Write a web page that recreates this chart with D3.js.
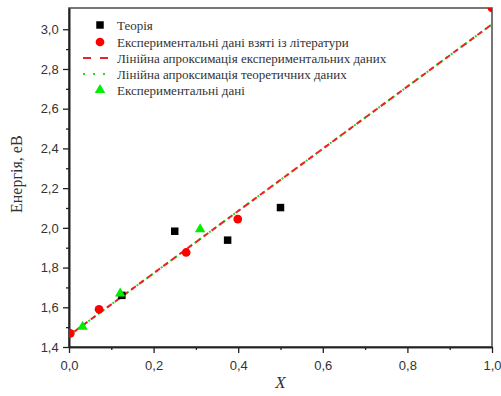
<!DOCTYPE html>
<html>
<head>
<meta charset="utf-8">
<script src="https://cdn.jsdelivr.net/npm/d3@7"></script>
<style>
  body { margin: 0; background: #fff; }
  svg { display: block; }
</style>
</head>
<body>
<div id="chart"></div>
<script>
// data
var theoryX = [0.125, 0.25, 0.375, 0.5];
var theoryY = [1.66, 1.983, 1.938, 2.102];

var litX = [0.003, 0.071, 0.277, 0.399, 1.0];
var litY = [1.469, 1.59, 1.876, 2.044, 3.107];

var expX = [0.032, 0.121, 0.31];
var expY = [1.497, 1.664, 1.988];

// linear fits (end points)
var fitExpX = [0, 1.0];
var fitExpY = [1.458, 3.025];
var fitTheoX = [0, 1.0];
var fitTheoY = [1.458, 3.025];

var xTicks = [0, 0.2, 0.4, 0.6, 0.8, 1.0];
var yTicks = [1.4, 1.6, 1.8, 2.0, 2.2, 2.4, 2.6, 2.8, 3.0];

var legendLabels = [
  'Теорія',
  'Експериментальні дані взяті із літератури',
  'Лінійна апроксимація експериментальних даних',
  'Лінійна апроксимація теоретичних даних',
  'Експериментальні дані'
];

var w = 501, h = 396;
var margin = {left: 69, right: 9, top: 8, bottom: 49};

var svg = d3.select('#chart').append('svg')
  .attr('width', w)
  .attr('height', h);

var x = d3.scaleLinear().domain([0, 1.0]).range([margin.left, w - margin.right]);
var y = d3.scaleLinear().domain([1.4, 3.107]).range([h - margin.bottom, margin.top]);

var fmt = function(d) { return d3.format('.1f')(d).replace('.', ','); };

svg.append('clipPath').attr('id', 'clip')
  .append('rect')
    .attr('x', x(0)).attr('y', y(3.107))
    .attr('width', x(1) - x(0)).attr('height', y(1.4) - y(3.107));

// frame
svg.append('rect')
  .attr('x', x(0)).attr('y', y(3.107))
  .attr('width', x(1) - x(0)).attr('height', y(1.4) - y(3.107))
  .attr('fill', 'none')
  .attr('stroke', '#555')
  .attr('stroke-width', 1.6);

// axes: major + minor ticks
var xMinor = d3.range(0.1, 1.0, 0.2);
var yMinor = d3.range(1.5, 3.1, 0.2);

var xAxis = svg.append('g')
  .attr('transform', 'translate(0,' + y(1.4) + ')')
  .call(d3.axisBottom(x).tickValues(xTicks).tickFormat(fmt).tickSize(6).tickSizeOuter(0));
svg.append('g')
  .attr('transform', 'translate(0,' + y(1.4) + ')')
  .call(d3.axisBottom(x).tickValues(xMinor).tickFormat('').tickSize(3).tickSizeOuter(0));

var yAxis = svg.append('g')
  .attr('transform', 'translate(' + x(0) + ',0)')
  .call(d3.axisLeft(y).tickValues(yTicks).tickFormat(fmt).tickSize(6).tickSizeOuter(0));
svg.append('g')
  .attr('transform', 'translate(' + x(0) + ',0)')
  .call(d3.axisLeft(y).tickValues(yMinor).tickFormat('').tickSize(3).tickSizeOuter(0));

svg.selectAll('.domain').attr('stroke', '#222').attr('stroke-width', 1.6);
svg.selectAll('.tick line').attr('stroke', '#222').attr('stroke-width', 1.3);
svg.selectAll('.tick text')
  .attr('font-family', 'Liberation Sans, Arial, sans-serif')
  .attr('font-size', 13)
  .attr('fill', '#333');
xAxis.selectAll('.tick text').attr('dy', '1.05em');
yAxis.selectAll('.tick text').attr('dx', '-0.1em');

// axis titles
svg.append('text')
  .attr('transform', 'translate(22,' + (y(2.27)) + ') rotate(-90)')
  .attr('text-anchor', 'middle')
  .attr('font-family', 'Liberation Serif, Times New Roman, serif')
  .attr('font-size', 16)
  .attr('fill', '#333')
  .text('Енергія, еВ');

svg.append('text')
  .attr('x', x(0.5)).attr('y', 388)
  .attr('text-anchor', 'middle')
  .attr('font-family', 'Liberation Serif, Times New Roman, serif')
  .attr('font-style', 'italic')
  .attr('font-size', 17)
  .attr('fill', '#333')
  .text('X');

var plot = svg.append('g').attr('clip-path', 'url(#clip)');

var line = d3.line()
  .x(function(d) { return x(d[0]); })
  .y(function(d) { return y(d[1]); });

plot.append('path')
  .datum(d3.zip(fitTheoX, fitTheoY))
  .attr('d', line)
  .attr('fill', 'none')
  .attr('stroke', '#22dd22')
  .attr('stroke-width', 2)
  .attr('stroke-dasharray', '2,4');

plot.append('path')
  .datum(d3.zip(fitExpX, fitExpY))
  .attr('d', line)
  .attr('fill', 'none')
  .attr('stroke', '#ee2222')
  .attr('stroke-width', 2)
  .attr('stroke-dasharray', '6,4')
  .attr('stroke-dashoffset', 3);

var sym = {
  square: d3.symbol().type(d3.symbolSquare).size(56),
  circle: d3.symbol().type(d3.symbolCircle).size(60),
  triangle: d3.symbol().type(d3.symbolTriangle).size(48)
};

plot.selectAll('.theory')
  .data(d3.zip(theoryX, theoryY))
  .enter().append('path')
    .attr('transform', function(d) { return 'translate(' + x(d[0]) + ',' + y(d[1]) + ')'; })
    .attr('d', sym.square)
    .attr('fill', '#000');

plot.selectAll('.lit')
  .data(d3.zip(litX, litY))
  .enter().append('path')
    .attr('transform', function(d) { return 'translate(' + x(d[0]) + ',' + y(d[1]) + ')'; })
    .attr('d', sym.circle)
    .attr('fill', '#ff0000');

plot.selectAll('.exp')
  .data(d3.zip(expX, expY))
  .enter().append('path')
    .attr('transform', function(d) { return 'translate(' + x(d[0]) + ',' + (y(d[1]) - 1) + ')'; })
    .attr('d', sym.triangle)
    .attr('fill', '#00ee00');

// legend
var leg = svg.append('g');
var legY = [25, 42, 58, 74, 90];
var legKinds = ['square', 'circle', 'dash', 'dot', 'triangle'];

legKinds.forEach(function(k, i) {
  var g = leg.append('g').attr('transform', 'translate(0,' + legY[i] + ')');
  if (k == 'dash') {
    g.append('line').attr('x1', 83).attr('x2', 108)
      .attr('stroke', '#ee2222').attr('stroke-width', 2).attr('stroke-dasharray', '8,9');
  } else if (k == 'dot') {
    g.append('line').attr('x1', 83).attr('x2', 108)
      .attr('stroke', '#22dd22').attr('stroke-width', 2.2).attr('stroke-dasharray', '2,8');
  } else {
    var fill = k == 'square' ? '#000' : (k == 'circle' ? '#ff0000' : '#00ee00');
    g.append('path')
      .attr('transform', 'translate(100,0)')
      .attr('d', sym[k])
      .attr('fill', fill);
  }
  g.append('text')
    .attr('x', 117).attr('y', 4.5)
    .attr('font-family', 'Liberation Serif, Times New Roman, serif')
    .attr('font-size', 13)
    .attr('fill', '#333')
    .text(legendLabels[i]);
});
</script>
</body>
</html>
